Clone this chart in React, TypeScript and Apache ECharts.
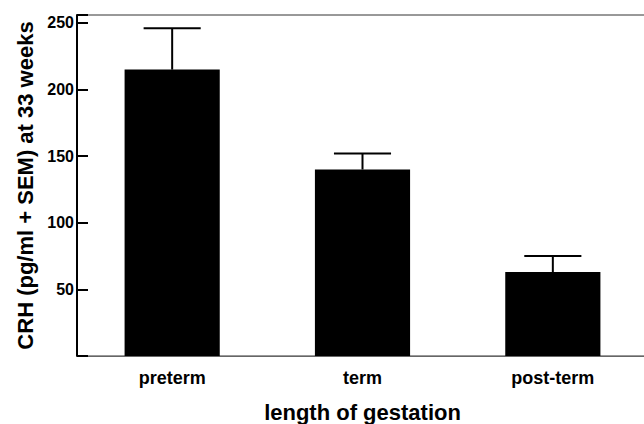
import React, { useEffect, useRef } from "react";
import * as echarts from "echarts";

const categories = ["preterm", "term", "post-term"];
const means = [215, 140, 63];
const upperSem = [246, 152, 75];
const yTickLabels = [50, 100, 150, 200, 250];
const yTitle = "CRH (pg/ml + SEM) at 33 weeks";
const xTitle = "length of gestation";

const FONT = "'Liberation Sans', Arial, Helvetica, sans-serif";

export default function App() {
  const ref = useRef<HTMLDivElement>(null);
  useEffect(() => {
    if (!ref.current) return;
    const chart = echarts.init(ref.current, null, { renderer: "svg" });
    chart.setOption({
      animation: false,
      backgroundColor: "#ffffff",
      grid: {
        left: 77,
        top: 15,
        width: 571,
        height: 341,
        outerBoundsMode: "none",
        containLabel: false,
        show: true,
        borderColor: "#333",
        borderWidth: 1,
        backgroundColor: "transparent",
      },
      xAxis: {
        type: "category",
        data: categories,
        axisLine: { show: true, lineStyle: { color: "#666", width: 1 } },
        axisTick: { show: false },
        axisLabel: {
          color: "#000",
          fontFamily: FONT,
          fontWeight: "bold",
          fontSize: 18,
          margin: 13,
        },
        name: xTitle,
        nameLocation: "middle",
        nameGap: 45,
        nameTextStyle: {
          color: "#000",
          fontFamily: FONT,
          fontWeight: "bold",
          fontSize: 22,
        },
      },
      yAxis: {
        type: "value",
        min: 0,
        max: 256,
        interval: 50,
        splitLine: { show: false },
        axisLine: { show: true, lineStyle: { color: "#000", width: 2 } },
        axisTick: {
          show: true,
          inside: true,
          length: 11,
          lineStyle: { color: "#000", width: 2 },
        },
        axisLabel: {
          color: "#000",
          fontFamily: FONT,
          fontWeight: "bold",
          fontSize: 16,
          margin: 3,
          formatter: (v: number) => (yTickLabels.includes(v) ? String(v) : ""),
        },
        name: yTitle,
        nameLocation: "middle",
        nameGap: 39,
        nameTextStyle: {
          color: "#000",
          fontFamily: FONT,
          fontWeight: "bold",
          fontSize: 22,
        },
      },
      series: [
        {
          type: "bar",
          data: means,
          barWidth: "50%",
          itemStyle: { color: "#000" },
          z: 2,
        },
        {
          type: "custom",
          data: categories.map((_, i) => [i, means[i], upperSem[i]]),
          z: 3,
          renderItem: (params: any, api: any) => {
            const x = api.value(0);
            const lo = api.coord([x, api.value(1)]);
            const hi = api.coord([x, api.value(2)]);
            const half = api.size([1, 0])[0] * 0.15;
            const style = { stroke: "#000", lineWidth: 2 };
            return {
              type: "group",
              children: [
                { type: "line", shape: { x1: lo[0], y1: lo[1], x2: hi[0], y2: hi[1] }, style },
                { type: "line", shape: { x1: hi[0] - half, y1: hi[1], x2: hi[0] + half, y2: hi[1] }, style },
              ],
            };
          },
        },
      ],
    });
    return () => chart.dispose();
  }, []);
  return (
    <div
      ref={ref}
      style={{ position: "fixed", left: 0, top: 0, width: 644, height: 424 }}
    />
  );
}
